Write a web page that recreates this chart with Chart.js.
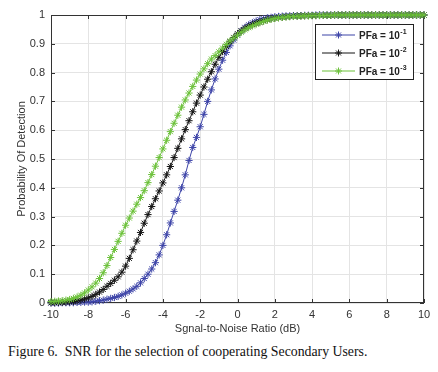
<!DOCTYPE html>
<html lang="en">

<head>
    <meta charset="UTF-8">
    <title>SNR vs Probability of Detection</title>
    <script src="https://cdn.jsdelivr.net/npm/chart.js"></script>
    <style>
        body { margin: 0; background: #fff; }
        #wrap { position: absolute; left: 0; top: 0; width: 438px; height: 340px; }
        #caption {
            position: absolute; left: 8px; top: 344px;
            font: 13.8px "Liberation Serif", "Times New Roman", serif;
            color: #111; white-space: pre;
        }
    </style>
</head>

<body>
    <div id="wrap"><canvas id="pdChart"></canvas></div>
    <div id="caption">Figure 6.  SNR for the selection of cooperating Secondary Users.</div>

    <script>
        // SNR in dB (x values)
        const snr = [-10,-9.8,-9.6,-9.4,-9.2,-9,-8.8,-8.6,-8.4,-8.2,
            -8,-7.8,-7.6,-7.4,-7.2,-7,-6.8,-6.6,-6.4,-6.2,
            -6,-5.8,-5.6,-5.4,-5.2,-5,-4.8,-4.6,-4.4,-4.2,
            -4,-3.8,-3.6,-3.4,-3.2,-3,-2.8,-2.6,-2.4,-2.2,
            -2,-1.8,-1.6,-1.4,-1.2,-1,-0.8,-0.6,-0.4,-0.2,
            0,0.2,0.4,0.6,0.8,1,1.2,1.4,1.6,1.8,
            2,2.2,2.4,2.6,2.8,3,3.2,3.4,3.6,3.8,
            4,4.2,4.4,4.6,4.8,5,5.2,5.4,5.6,5.8,
            6,6.2,6.4,6.6,6.8,7,7.2,7.4,7.6,7.8,
            8,8.2,8.4,8.6,8.8,9,9.2,9.4,9.6,9.8,
            10];

        // Pd for PFa = 10^-1
        const pdFa1 = [0.000,0.000,0.000,0.001,0.001,0.001,0.001,0.002,0.002,0.003,
            0.003,0.004,0.006,0.008,0.010,0.013,0.016,0.019,0.023,0.028,
            0.034,0.041,0.049,0.058,0.070,0.085,0.100,0.118,0.140,0.167,
            0.200,0.237,0.278,0.318,0.357,0.400,0.445,0.495,0.540,0.575,
            0.612,0.655,0.700,0.740,0.778,0.812,0.843,0.870,0.893,0.913,
            0.930,0.945,0.957,0.966,0.973,0.979,0.984,0.987,0.990,0.992,
            0.994,0.995,0.996,0.997,0.997,0.998,0.998,0.998,0.999,0.999,
            0.999,1,1,1,1,1,1,1,1,1,
            1,1,1,1,1,1,1,1,1,1,
            1,1,1,1,1,1,1,1,1,1,
            1];

        // Pd for PFa = 10^-2
        const pdFa2 = [0.001,0.001,0.002,0.002,0.003,0.004,0.005,0.007,0.010,0.014,
            0.018,0.023,0.030,0.038,0.047,0.058,0.068,0.079,0.091,0.107,
            0.128,0.155,0.185,0.215,0.245,0.277,0.307,0.335,0.362,0.389,
            0.417,0.445,0.474,0.505,0.537,0.570,0.602,0.633,0.664,0.694,
            0.722,0.750,0.777,0.803,0.829,0.853,0.873,0.891,0.907,0.922,
            0.935,0.945,0.954,0.961,0.967,0.972,0.976,0.980,0.984,0.987,
            0.989,0.991,0.992,0.994,0.995,0.996,0.996,0.997,0.997,0.998,
            0.998,0.998,0.999,0.999,0.999,0.999,1,1,1,1,
            1,1,1,1,1,1,1,1,1,1,
            1,1,1,1,1,1,1,1,1,1,
            1];

        // Pd for PFa = 10^-3
        const pdFa3 = [0.005,0.006,0.007,0.008,0.010,0.012,0.016,0.021,0.027,0.035,
            0.045,0.056,0.069,0.085,0.105,0.130,0.158,0.186,0.214,0.242,
            0.270,0.295,0.319,0.343,0.366,0.390,0.418,0.446,0.475,0.505,
            0.535,0.565,0.595,0.624,0.652,0.680,0.705,0.729,0.752,0.774,
            0.795,0.813,0.831,0.847,0.859,0.872,0.885,0.898,0.910,0.920,
            0.930,0.940,0.949,0.956,0.962,0.968,0.973,0.978,0.982,0.985,
            0.988,0.990,0.992,0.993,0.994,0.995,0.996,0.996,0.997,0.997,
            0.998,0.998,0.998,0.999,0.999,0.999,1,1,1,1,
            1,1,1,1,1,1,1,1,1,1,
            1,1,1,1,1,1,1,1,1,1,
            1];

        const legendBase = "PFa = 10";
        const legendExp = ["-1", "-2", "-3"];
        const colors = ["#3d44a8", "#151515", "#6cc13a"];

        function toPoints(ys) {
            return snr.map((x, i) => ({ x: x, y: ys[i] }));
        }

        function star(ctx, x, y, r) {
            const d = r * Math.SQRT1_2;
            ctx.beginPath();
            ctx.moveTo(x - r, y); ctx.lineTo(x + r, y);
            ctx.moveTo(x, y - r); ctx.lineTo(x, y + r);
            ctx.moveTo(x - d, y - d); ctx.lineTo(x + d, y + d);
            ctx.moveTo(x - d, y + d); ctx.lineTo(x + d, y - d);
            ctx.stroke();
        }

        // box around the plot, inward ticks and the legend (matlab look)
        const matlabLook = {
            id: "matlabLook",
            beforeDatasetsDraw(chart) {
                const { ctx, chartArea: a, scales } = chart;
                ctx.save();
                ctx.strokeStyle = "#333";
                ctx.lineWidth = 1;
                ctx.strokeRect(a.left + 0.5, a.top + 0.5, a.right - a.left - 1, a.bottom - a.top - 1);
                ctx.beginPath();
                scales.x.ticks.forEach(t => {
                    const px = Math.round(scales.x.getPixelForValue(t.value)) + 0.5;
                    ctx.moveTo(px, a.bottom); ctx.lineTo(px, a.bottom - 4);
                    ctx.moveTo(px, a.top); ctx.lineTo(px, a.top + 4);
                });
                scales.y.ticks.forEach(t => {
                    const py = Math.round(scales.y.getPixelForValue(t.value)) + 0.5;
                    ctx.moveTo(a.left, py); ctx.lineTo(a.left + 4, py);
                    ctx.moveTo(a.right, py); ctx.lineTo(a.right - 4, py);
                });
                ctx.stroke();
                ctx.restore();
            },
            afterDraw(chart) {
                const ctx = chart.ctx;
                const bx = 315, by = 24, bw = 98, bh = 55;
                ctx.save();
                ctx.fillStyle = "#fff";
                ctx.fillRect(bx, by, bw, bh);
                ctx.strokeStyle = "#222";
                ctx.lineWidth = 1;
                ctx.strokeRect(bx + 0.5, by + 0.5, bw, bh);
                legendExp.forEach((e, i) => {
                    const y = by + 11 + i * 18;
                    ctx.strokeStyle = colors[i];
                    ctx.lineWidth = 1.2;
                    ctx.beginPath();
                    ctx.moveTo(bx + 7, y); ctx.lineTo(bx + 40, y);
                    ctx.stroke();
                    ctx.lineWidth = 1;
                    star(ctx, bx + 23.5, y, 3.5);
                    ctx.fillStyle = "#222";
                    ctx.textBaseline = "middle";
                    ctx.font = "bold 10px 'Liberation Sans', Arial, sans-serif";
                    ctx.fillText(legendBase, bx + 44, y + 1);
                    const w = ctx.measureText(legendBase).width;
                    ctx.font = "bold 7px 'Liberation Sans', Arial, sans-serif";
                    ctx.fillText(e, bx + 44 + w + 0.5, y - 3);
                });
                ctx.restore();
            }
        };

        const seriesData = [pdFa1, pdFa2, pdFa3];
        const datasets = seriesData.map((ys, i) => ({
            label: legendBase + legendExp[i],
            data: toPoints(ys),
            borderColor: colors[i],
            backgroundColor: colors[i],
            borderWidth: 1,
            pointStyle: "star",
            pointRadius: 3.6,
            pointBorderWidth: 1,
            pointBorderColor: colors[i],
            tension: 0,
            clip: 6,
            order: 3 - i
        }));

        const tickFont = { family: "'Liberation Sans', Arial, sans-serif", size: 11 };

        new Chart(document.getElementById("pdChart"), {
            type: "line",
            data: { datasets: datasets },
            options: {
                responsive: true,
                maintainAspectRatio: false,
                animation: false,
                layout: { padding: { top: 15, right: 14, left: 0, bottom: 0 } },
                plugins: {
                    legend: { display: false },
                    tooltip: { enabled: false }
                },
                scales: {
                    x: {
                        type: "linear",
                        min: -10,
                        max: 10,
                        ticks: { stepSize: 2, color: "#333", font: tickFont, padding: 5, maxRotation: 0 },
                        grid: { color: "#e4e4e4", drawTicks: false },
                        border: { display: false },
                        title: {
                            display: true,
                            text: "Sgnal-to-Noise Ratio (dB)",
                            color: "#333",
                            font: tickFont,
                            padding: { top: 0, bottom: 4 }
                        },
                        afterFit: s => { s.height = 37; }
                    },
                    y: {
                        min: 0,
                        max: 1,
                        ticks: {
                            stepSize: 0.1, color: "#333", font: tickFont, padding: 6,
                            callback: v => String(Math.round(v * 10) / 10)
                        },
                        grid: { color: "#e4e4e4", drawTicks: false },
                        border: { display: false },
                        title: {
                            display: true,
                            text: "Probability Of Detection",
                            color: "#333",
                            font: tickFont,
                            padding: { top: 15, bottom: 0 }
                        },
                        afterFit: s => { s.width = 51; }
                    }
                }
            },
            plugins: [matlabLook]
        });
    </script>
</body>

</html>
